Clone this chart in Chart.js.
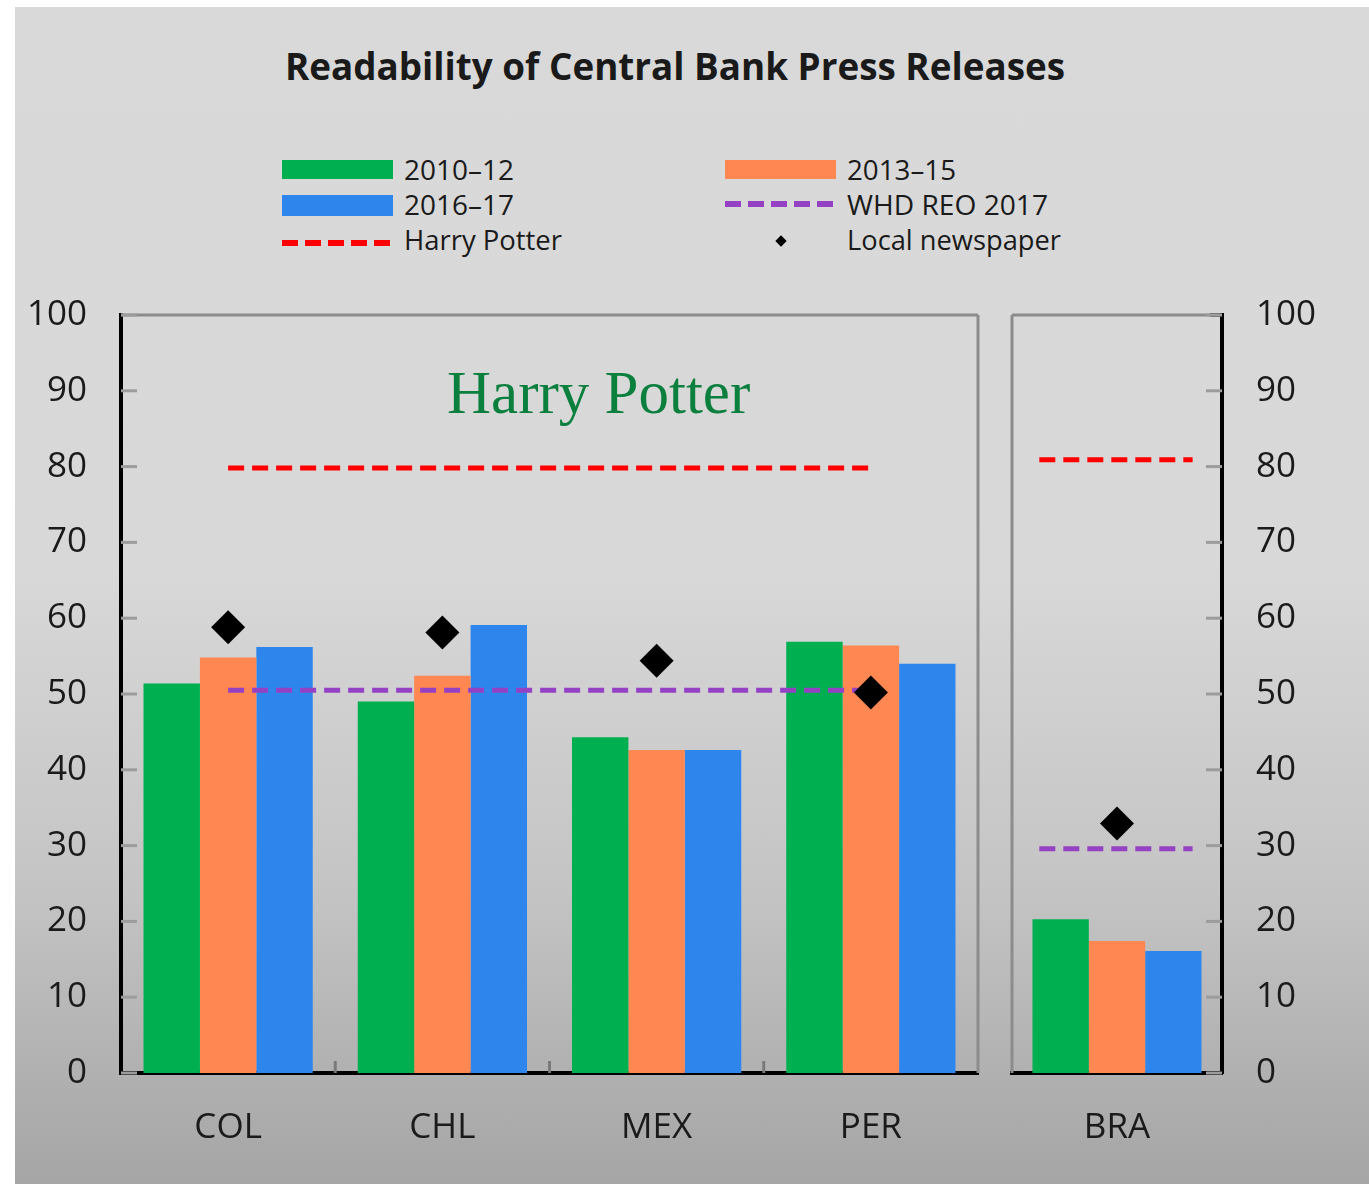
<!DOCTYPE html>
<html>
<head>
  <meta charset="UTF-8">
  <title>Readability of Central Bank Press Releases</title>
  <script src="https://cdn.jsdelivr.net/npm/chart.js"></script>
  <style>
    body { margin: 0; width: 1369px; height: 1184px; background: #fff; position: relative; overflow: hidden; font-family: "Open Sans", sans-serif; color: #1a1a1a; }
    #bg { position: absolute; left: 15px; top: 7px; width: 1354px; height: 1177px;
          background: linear-gradient(to bottom, #d9d9d9 0%, #d8d8d8 48%, #c4c4c4 75%, #a5a5a5 100%); }
    .fit { position: absolute; white-space: nowrap; transform-origin: 0 50%; line-height: 1; }
    #title { left: 285px; top: 46px; font-size: 38px; font-weight: bold; }
    .lt { font-size: 28px; }
    .sw { position: absolute; width: 111px; }
    .dash { position: absolute; width: 111px; height: 6px; }
    #diam { position: absolute; left: 777px; top: 237px; width: 8px; height: 8px; background: #000; transform: rotate(45deg); }
    #hp { position: absolute; left: 447px; top: 362px; font-family: "Liberation Serif", serif; font-size: 61px; line-height: 1; color: #0b7f3d; white-space: nowrap; }
    canvas { position: absolute; }
  </style>
</head>
<body>
  <div id="bg"></div>
  <div id="title" class="fit" data-w="780">Readability of Central Bank Press Releases</div>

  <div class="sw" style="left:282px; top:160px; height:19px; background:#00af50"></div>
  <div class="fit lt" data-w="110" style="left:404px; top:155px">2010–12</div>
  <div class="sw" style="left:725px; top:160px; height:19px; background:#ff8752"></div>
  <div class="fit lt" data-w="109" style="left:847px; top:155px">2013–15</div>
  <div class="sw" style="left:282px; top:195px; height:21px; background:#2e86ec"></div>
  <div class="fit lt" data-w="110" style="left:404px; top:190px">2016–17</div>
  <div class="dash" style="left:725px; top:201px; background:repeating-linear-gradient(to right, #9541c4 0 16px, transparent 16px 23px)"></div>
  <div class="fit lt" data-w="201" style="left:847px; top:190px">WHD REO 2017</div>
  <div class="dash" style="left:282px; top:240px; background:repeating-linear-gradient(to right, #ff0000 0 16px, transparent 16px 23px)"></div>
  <div class="fit lt" data-w="158" style="left:404px; top:225px">Harry Potter</div>
  <div id="diam"></div>
  <div class="fit lt" data-w="214" style="left:847px; top:225px">Local newspaper</div>

  <canvas id="left" width="995" height="924" style="left:0; top:260px"></canvas>
  <canvas id="right" width="379" height="924" style="left:990px; top:260px"></canvas>
  <div id="hp">Harry Potter</div>

  <script>
    // panel 1
    const categories = ["COL", "CHL", "MEX", "PER"];
    const v2010 = [51.4, 49.0, 44.3, 56.9];
    const v2013 = [54.8, 52.4, 42.6, 56.4];
    const v2016 = [56.2, 59.1, 42.6, 54.0];
    const newspaper = [58.8, 58.1, 54.4, 50.2];
    const whdLine = [50.5, 50.5, 50.5, 50.5];
    const potterLine = [79.8, 79.8, 79.8, 79.8];

    // panel 2 (single country, drawn on a linear x axis centred on 0)
    const categoriesBra = ["BRA"];
    const v2010Bra = [{ x: 0, y: 20.3 }];
    const v2013Bra = [{ x: 0, y: 17.4 }];
    const v2016Bra = [{ x: 0, y: 16.1 }];
    const newspaperBra = [{ x: 0, y: 32.9 }];
    const whdBra = [{ x: -0.37, y: 29.6 }, { x: 0.36, y: 29.6 }];
    const potterBra = [{ x: -0.37, y: 80.9 }, { x: 0.36, y: 80.9 }];

    const yTicks = [0, 10, 20, 30, 40, 50, 60, 70, 80, 90, 100];

    const GREEN = "#00af50", ORANGE = "#ff8752", BLUE = "#2e86ec", PURPLE = "#9541c4", RED = "#ff0000";
    const tickFont = { family: "Open Sans", size: 35 };

    // gray frame on the non-axis sides plus small inward tick marks
    const framePlugin = {
      id: "frame",
      beforeDatasetsDraw(chart, args, opts) {
        const { ctx, chartArea: a, scales } = chart;
        const leftSide = opts.side === "left";
        ctx.save();
        ctx.lineWidth = 3;
        ctx.strokeStyle = "#8c8c8c";
        ctx.beginPath();
        ctx.moveTo(a.left, a.top);
        ctx.lineTo(a.right, a.top);
        const gx = leftSide ? a.right : a.left;
        ctx.moveTo(gx, a.top);
        ctx.lineTo(gx, a.bottom);
        ctx.stroke();
        if (!leftSide) {
          ctx.strokeStyle = "#000";
          ctx.beginPath();
          ctx.moveTo(a.right - 12, a.top);
          ctx.lineTo(a.right, a.top);
          ctx.stroke();
        }

        const ax = leftSide ? a.left : a.right;
        const dir = leftSide ? 1 : -1;
        ctx.strokeStyle = "#9c9c9c";
        scales.y.ticks.forEach(t => {
          const py = scales.y.getPixelForValue(t.value);
          ctx.beginPath();
          ctx.moveTo(ax, py);
          ctx.lineTo(ax + dir * 16, py);
          ctx.stroke();
        });
        const xs = scales.x;
        ctx.strokeStyle = "#7a7a7a";
        for (let i = 1; i < xs.ticks.length; i++) {
          const px = (xs.getPixelForTick(i - 1) + xs.getPixelForTick(i)) / 2;
          ctx.beginPath();
          ctx.moveTo(px, a.bottom);
          ctx.lineTo(px, a.bottom - 12);
          ctx.stroke();
        }
        ctx.restore();
      }
    };

    function barSet(label, data, color) {
      return { type: "bar", label, data, backgroundColor: color, borderWidth: 0, order: 3 };
    }
    function refLine(label, data, color) {
      return { type: "line", label, data, borderColor: color, borderWidth: 5, borderDash: [16, 8],
               pointRadius: 0, fill: false, tension: 0, order: 1 };
    }
    function dots(data) {
      return { type: "line", label: "Local newspaper", data, showLine: false, pointStyle: "rectRot",
               pointRadius: 17, pointBackgroundColor: "#000", pointBorderColor: "#000", pointBorderWidth: 0, order: 0 };
    }

    function yScale(position, width) {
      return {
        position, min: 0, max: 100,
        afterBuildTicks: s => { s.ticks = yTicks.map(v => ({ value: v })); },
        ticks: { padding: 34, color: "#1a1a1a", font: tickFont },
        grid: { display: false, drawTicks: false },
        border: { display: true, color: "#000", width: 4 },
        afterFit: s => { s.width = width; }
      };
    }
    const xCommon = {
      position: "bottom",
      grid: { display: false, drawTicks: false },
      border: { display: true, color: "#000", width: 4 },
      afterFit: s => { s.height = 111; }
    };

    const basePlugins = { legend: { display: false }, tooltip: { enabled: false } };

    new Chart(document.getElementById("left"), {
      data: {
        labels: categories,
        datasets: [
          barSet("2010–12", v2010, GREEN),
          barSet("2013–15", v2013, ORANGE),
          barSet("2016–17", v2016, BLUE),
          refLine("WHD REO 2017", whdLine, PURPLE),
          refLine("Harry Potter", potterLine, RED),
          dots(newspaper)
        ]
      },
      options: {
        responsive: false, animation: false,
        datasets: { bar: { barPercentage: 1.0, categoryPercentage: 0.79 } },
        layout: { padding: { top: 24, right: 0, left: 0, bottom: 0 } },
        scales: {
          x: { ...xCommon, type: "category", offset: true,
               ticks: { padding: 34, color: "#1a1a1a", font: tickFont } },
          y: yScale("left", 121)
        },
        plugins: { ...basePlugins, frame: { side: "left" } }
      },
      plugins: [framePlugin]
    });

    new Chart(document.getElementById("right"), {
      data: {
        datasets: [
          barSet("2010–12", v2010Bra, GREEN),
          barSet("2013–15", v2013Bra, ORANGE),
          barSet("2016–17", v2016Bra, BLUE),
          refLine("WHD REO 2017", whdBra, PURPLE),
          refLine("Harry Potter", potterBra, RED),
          dots(newspaperBra)
        ]
      },
      options: {
        responsive: false, animation: false,
        datasets: { bar: { barPercentage: 1.0, categoryPercentage: 0.805 } },
        layout: { padding: { top: 24, right: 0, left: 22, bottom: 0 } },
        scales: {
          x: { ...xCommon, type: "linear", min: -0.5, max: 0.5, offset: false,
               afterBuildTicks: s => { s.ticks = categoriesBra.map((c, i) => ({ value: i })); },
               ticks: { padding: 34, color: "#1a1a1a", font: tickFont, callback: (v, i) => categoriesBra[i] } },
          y: yScale("right", 147)
        },
        plugins: { ...basePlugins, frame: { side: "right" } }
      },
      plugins: [framePlugin]
    });

    // squeeze the condensed-looking texts to their widths
    document.querySelectorAll(".fit").forEach(el => {
      const w = el.getBoundingClientRect().width;
      el.style.transform = "scaleX(" + (Number(el.dataset.w) / w) + ")";
    });
  </script>
</body>
</html>
